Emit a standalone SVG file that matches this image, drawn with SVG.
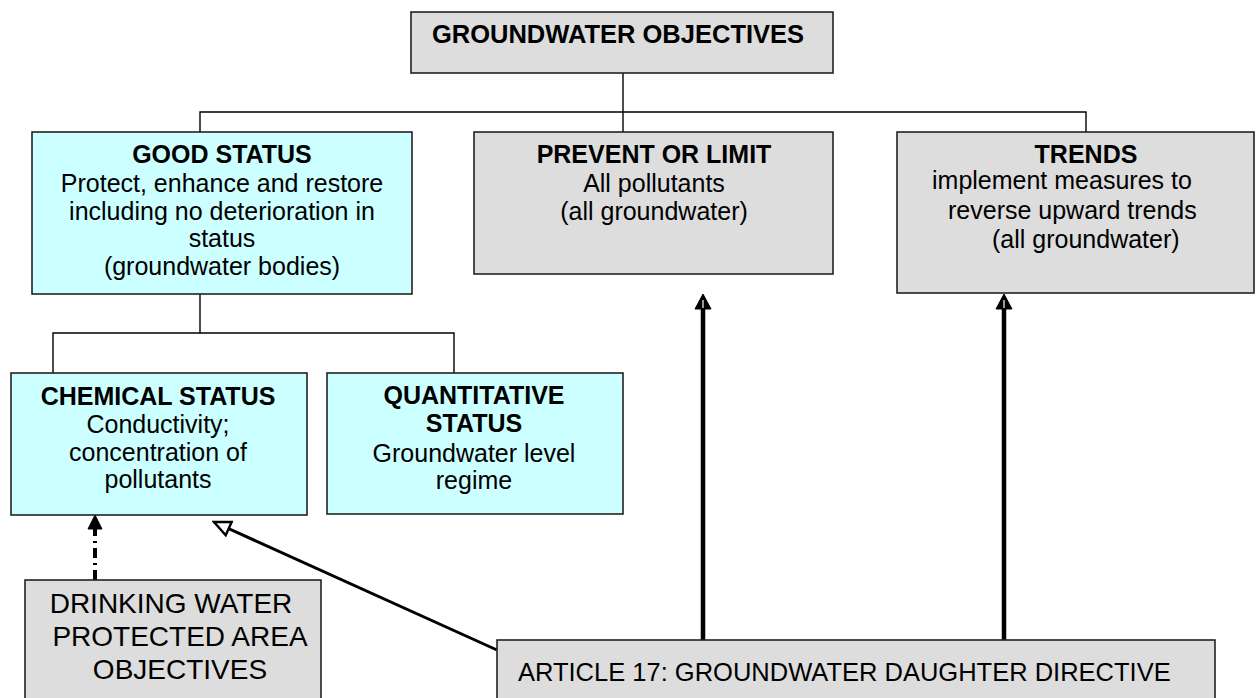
<svg xmlns="http://www.w3.org/2000/svg" width="1256" height="698" viewBox="0 0 1256 698">
<style>
  text { font-family: "Liberation Sans", Arial, sans-serif; fill: #000; }
  .b { font-weight: bold; font-size: 25px; }
  .r { font-size: 25px; }
  .m { text-anchor: middle; }
  .cyan { fill: #CCFFFF; stroke: #222; stroke-width: 1.6; }
  .gray { fill: #DDDDDD; stroke: #222; stroke-width: 1.6; }
  .thin { fill: none; stroke: #000; stroke-width: 1.4; }
  .thick { fill: none; stroke: #000; stroke-width: 4.5; }
  .diag { fill: none; stroke: #000; stroke-width: 3; }
  .dash { fill: none; stroke: #000; stroke-width: 4; stroke-dasharray: 10 5 2 5; }
  .head { fill: #000; stroke: #000; stroke-width: 1; stroke-linejoin: miter; }
  .notch { stroke: #fff; stroke-width: 1.2; }
</style>
<defs>
  <marker id="hollow" markerUnits="userSpaceOnUse" markerWidth="20" markerHeight="18" refX="16" refY="8" orient="auto" viewBox="0 0 18 16">
    <path d="M1.5,1.5 L16,8 L1.5,14.5 z" fill="#fff" stroke="#000" stroke-width="2.2"/>
  </marker>
</defs>

<g id="connectors">
  <path class="thin" d="M623,73 V132"/>
  <path class="thin" d="M200,132 V112 H1086 V132"/>
  <path class="thin" d="M200,294 V333"/>
  <path class="thin" d="M53,373 V333 H454 V373"/>
  <path class="thick" d="M703,640 V306"/>
  <path class="head" d="M703,294 L711,309 L695,309 z"/>
  <path class="notch" d="M703,300 V308"/>
  <path class="thick" d="M1004,640 V306"/>
  <path class="head" d="M1004,294 L1012,309 L996,309 z"/>
  <path class="notch" d="M1004,300 V308"/>
  <path class="diag" d="M497,650 L214,522" marker-end="url(#hollow)"/>
  <path class="dash" d="M95,580 V529"/>
  <path class="head" d="M95,515 L102,529 L88,529 z"/>
</g>

<g id="node-objectives">
  <rect class="gray" x="411" y="12" width="422" height="61"/>
  <text class="b m" x="618" y="43" style="font-size:25.5px">GROUNDWATER OBJECTIVES</text>
</g>

<g id="node-good-status">
  <rect class="cyan" x="32" y="132" width="380" height="162"/>
  <text class="b m" x="222" y="163">GOOD STATUS</text>
  <text class="r m" x="222" y="192">Protect, enhance and restore</text>
  <text class="r m" x="222" y="220">including no deterioration in</text>
  <text class="r m" x="222" y="247">status</text>
  <text class="r m" x="222" y="275">(groundwater bodies)</text>
</g>

<g id="node-prevent">
  <rect class="gray" x="474" y="132" width="359" height="142"/>
  <text class="b m" x="654" y="163">PREVENT OR LIMIT</text>
  <text class="r m" x="654" y="192">All pollutants</text>
  <text class="r m" x="654" y="220">(all groundwater)</text>
</g>

<g id="node-trends">
  <rect class="gray" x="897" y="132" width="357" height="161"/>
  <text class="b m" x="1086" y="163">TRENDS</text>
  <text class="r" x="932" y="189">implement measures to</text>
  <text class="r" x="948" y="219">reverse upward trends</text>
  <text class="r" x="992" y="248">(all groundwater)</text>
</g>

<g id="node-chemical">
  <rect class="cyan" x="11" y="373" width="296" height="142"/>
  <text class="b m" x="158" y="405">CHEMICAL STATUS</text>
  <text class="r m" x="158" y="433">Conductivity;</text>
  <text class="r m" x="158" y="461">concentration of</text>
  <text class="r m" x="158" y="488">pollutants</text>
</g>

<g id="node-quantitative">
  <rect class="cyan" x="327" y="373" width="296" height="141"/>
  <text class="b m" x="474" y="404">QUANTITATIVE</text>
  <text class="b m" x="474" y="432">STATUS</text>
  <text class="r m" x="474" y="462">Groundwater level</text>
  <text class="r m" x="474" y="489">regime</text>
</g>

<g id="node-drinking">
  <rect class="gray" x="25" y="580" width="296" height="130"/>
  <text class="m" style="font-size:28px" x="171" y="613">DRINKING WATER</text>
  <text class="m" style="font-size:28px" x="180" y="646">PROTECTED AREA</text>
  <text class="m" style="font-size:28px" x="180" y="679">OBJECTIVES</text>
</g>

<g id="node-article">
  <rect class="gray" x="497" y="640" width="718" height="70"/>
  <text class="r" x="518" y="681" style="font-size:25.5px">ARTICLE 17: GROUNDWATER DAUGHTER DIRECTIVE</text>
</g>
</svg>
